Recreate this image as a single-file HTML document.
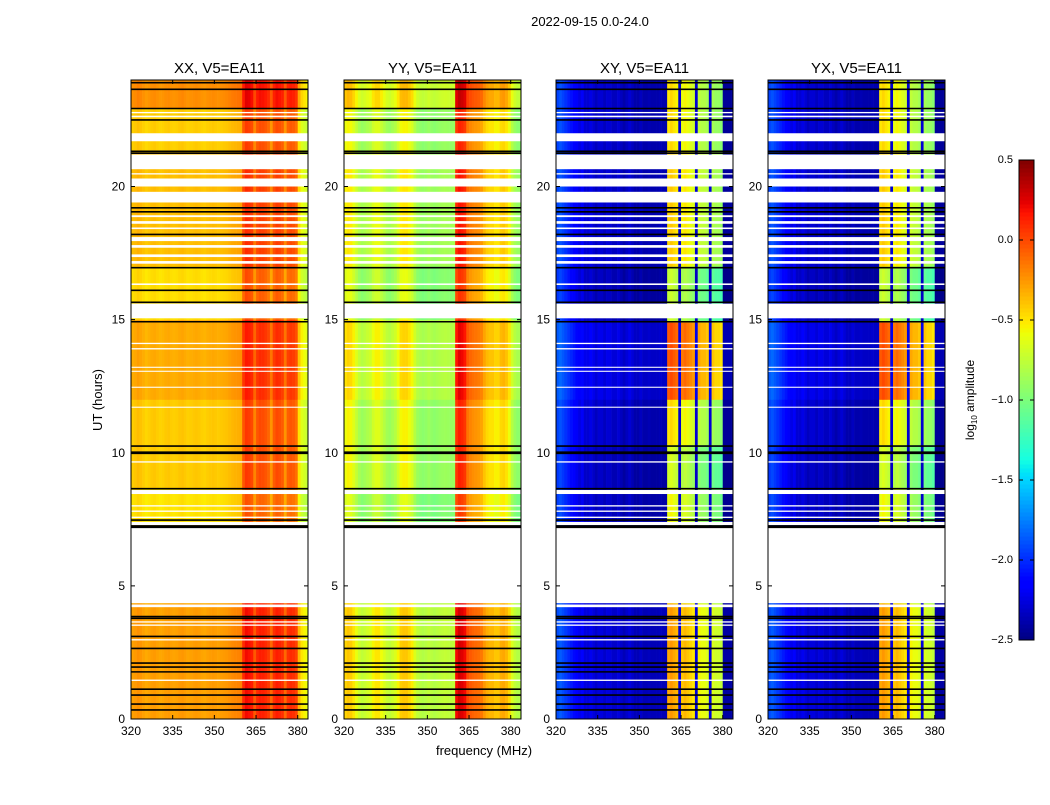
<!DOCTYPE html>
<html><head><meta charset="utf-8">
<style>
body{margin:0;background:#fff;}
svg text{font-family:"Liberation Sans","DejaVu Sans",sans-serif;fill:#000;}
</style></head>
<body>
<svg id="fig" width="1050" height="800" viewBox="0 0 1050 800" xmlns="http://www.w3.org/2000/svg">
<rect width="1050" height="800" fill="#fff"/>
<text x="590" y="26" font-size="13" text-anchor="middle">2022-09-15 0.0-24.0</text>
<text transform="translate(102,400) rotate(-90)" font-size="13" text-anchor="middle">UT (hours)</text>
<text x="484" y="755" font-size="13" text-anchor="middle">frequency (MHz)</text>
<g id="panels"></g>
<g id="cbar"></g>
</svg>
<script>
// ---- data ----
const freqStart = 320, freqStep = 1; // 64 one-MHz bins, 320-384
const xxProfile = [-0.38,-0.36,-0.33,-0.35,-0.38,-0.41,-0.39,-0.37,-0.36,-0.38,-0.4,-0.39,-0.37,-0.36,-0.38,-0.39,-0.38,-0.36,-0.35,-0.37,-0.39,-0.38,-0.37,-0.36,-0.37,-0.39,-0.4,-0.38,-0.37,-0.36,-0.37,-0.38,-0.37,-0.36,-0.35,-0.33,-0.31,-0.3,-0.29,-0.28,0.0,0.1,0.08,0.04,-0.15,0.0,0.04,0.03,0.0,-0.05,-0.2,-0.02,0.04,0.02,-0.02,-0.2,-0.03,0.0,-0.02,-0.08,-0.45,-0.6,-0.65,-0.7];
const yyProfile = [-0.55,-0.5,-0.52,-0.6,-0.7,-0.8,-0.85,-0.82,-0.78,-0.75,-0.65,-0.6,-0.6,-0.68,-0.75,-0.82,-0.85,-0.8,-0.75,-0.65,-0.52,-0.5,-0.5,-0.55,-0.62,-0.75,-0.85,-0.88,-0.9,-0.88,-0.85,-0.88,-0.9,-0.88,-0.86,-0.85,-0.84,-0.85,-0.86,-0.85,0.1,0.18,0.15,0.1,-0.1,-0.15,-0.18,-0.2,-0.22,-0.25,-0.35,-0.42,-0.45,-0.45,-0.5,-0.5,-0.42,-0.4,-0.45,-0.55,-0.75,-0.85,-0.9,-0.9];
const xyProfile = [-1.95,-1.9,-1.95,-2.0,-2.05,-2.1,-2.15,-2.2,-2.25,-2.2,-2.3,-2.3,-2.25,-2.3,-2.35,-2.3,-2.3,-2.35,-2.3,-2.3,-2.35,-2.35,-2.3,-2.35,-2.4,-2.35,-2.3,-2.35,-2.4,-2.4,-2.35,-2.4,-2.4,-2.38,-2.4,-2.4,-2.4,-2.38,-2.4,-2.4,-0.6,-0.55,-0.6,-0.65,-2.3,-0.7,-0.65,-0.7,-0.75,-0.8,-2.3,-0.85,-0.9,-0.9,-0.95,-2.3,-0.95,-1.0,-1.0,-1.05,-2.45,-2.45,-2.45,-2.45];
const yxProfile = xyProfile.slice();
// time gain segments: [startHour, endHour, offset]
const parGain = [[0,4.35,0.1],[4.35,7.4,0],[7.4,8.65,-0.12],[8.65,10.3,-0.04],[10.3,12,-0.04],[12,15,0.06],[15,17,-0.1],[17,21.3,0.0],[21.3,22.95,-0.05],[22.95,24,0.15]];
const crossGain = [[0,4.35,0.3],[4.35,7.4,0],[7.4,8.65,0.0],[8.65,10.3,-0.1],[10.3,12,0.1],[12,14.9,0.55],[14.9,17,-0.15],[17,21.3,0.15],[21.3,24,0.1]];
// flagged (blank) intervals in hours
const blanks = [[4.35,7.2],[4.2,4.3],[3.62,3.67],[3.5,3.55],[2.95,3.0],[1.43,1.48],[7.28,7.4],[7.55,7.6],[7.78,7.83],[7.98,8.03],[8.45,8.6],[9.63,9.68],[11.69,11.73],[12.44,12.48],[13.04,13.08],[13.19,13.23],[13.88,13.93],[14.08,14.13],[15.05,15.6],[16.3,16.36],[17.1,17.2],[17.35,17.45],[17.7,17.8],[17.95,18.1],[18.4,18.46],[18.6,18.7],[18.85,18.92],[19.4,19.8],[20.0,20.3],[20.45,20.5],[20.65,21.2],[21.7,22.0],[22.6,22.66],[22.75,22.8]];
// black (flag-boundary) lines in hours
const blackLines = [0.34,0.56,0.9,1.12,1.77,1.95,2.1,2.65,3.1,3.78,3.85,7.2,7.25,7.47,8.65,9.98,10.02,10.25,14.92,15.65,16.1,16.95,18.2,19.05,19.2,21.25,21.32,22.5,22.93,23.65,23.9];
const xTicks = [320,335,350,365,380];
const yTicks = [0,5,10,15,20];
const cbTicks = [0.5,0.0,-0.5,-1.0,-1.5,-2.0,-2.5];
const panels = [
  {title:'XX, V5=EA11', x0:131, prof:xxProfile, gain:parGain},
  {title:'YY, V5=EA11', x0:344, prof:yyProfile, gain:parGain},
  {title:'XY, V5=EA11', x0:556, prof:xyProfile, gain:crossGain},
  {title:'YX, V5=EA11', x0:768, prof:yxProfile, gain:crossGain}
];
// ---- layout ----
const PW=177, PT=80, PB=719, FMIN=320, FMAX=383.7, TMAX=24, VMIN=-2.5, VMAX=0.5;
const NS='http://www.w3.org/2000/svg';
function el(tag,attrs,parent){const e=document.createElementNS(NS,tag);for(const k in attrs)e.setAttribute(k,attrs[k]);parent.appendChild(e);return e;}
function interp(t,pts){for(let i=1;i<pts.length;i++){if(t<=pts[i][0]){const a=pts[i-1],b=pts[i];return a[1]+(b[1]-a[1])*(t-a[0])/(b[0]-a[0]);}}return pts[pts.length-1][1];}
const JR=[[0,0],[0.35,0],[0.66,1],[0.89,1],[1,0.5]];
const JG=[[0,0],[0.125,0],[0.375,1],[0.64,1],[0.91,0],[1,0]];
const JB=[[0,0.5],[0.11,1],[0.34,1],[0.65,0],[1,0]];
function jet(v){let t=(v-VMIN)/(VMAX-VMIN);t=Math.max(0,Math.min(1,t));
  return `rgb(${Math.round(interp(t,JR)*255)},${Math.round(interp(t,JG)*255)},${Math.round(interp(t,JB)*255)})`;}
function yS(h){return PB-(h/TMAX)*(PB-PT);}
const root=document.getElementById('panels');
panels.forEach((p,pi)=>{
  const xS=f=>p.x0+(f-FMIN)/(FMAX-FMIN)*PW;
  const g=el('g',{},root);
  
  
  const hm=el('g',{},g);
  
  
  p.prof.forEach((v,c)=>{
    const f0=freqStart+c*freqStep, f1=Math.min(f0+freqStep,FMAX);
    const xa=xS(f0), xb=xS(f1);
    p.gain.forEach(sg=>{
      const val = (p.gain===crossGain && v<-1.5) ? v+sg[2]*0.15 : v+sg[2];
      const r=el('rect',{x:xa.toFixed(2),y:yS(sg[1]).toFixed(2),width:(xb-xa+0.3).toFixed(2),height:(yS(sg[0])-yS(sg[1])+0.3).toFixed(2),fill:jet(val)},hm);
      
      
    });
  });
  blanks.forEach(b=>{
    const r=el('rect',{x:p.x0,y:yS(b[1]),width:PW,height:yS(b[0])-yS(b[1]),fill:'#fff'},g);
    
    
  });
  blackLines.forEach(h=>{
    const l=el('line',{x1:p.x0,x2:p.x0+PW,y1:yS(h),y2:yS(h),stroke:'#000','stroke-width':1.6},g);
    
    
  });
  const fr=el('rect',{x:p.x0,y:PT,width:PW,height:PB-PT,fill:'none',stroke:'#000','stroke-width':1},g);
  
  
  const t=el('text',{x:p.x0+PW/2,y:73,'font-size':15,'text-anchor':'middle'},g);
  t.textContent=p.title;
  
  
  xTicks.forEach(v=>{
    const x=xS(v);
    el('line',{x1:x,x2:x,y1:PB,y2:PB-4,stroke:'#000'},g);
    el('line',{x1:x,x2:x,y1:PT,y2:PT+4,stroke:'#000'},g);
    const tl=el('text',{x:x,y:PB+16,'font-size':12,'text-anchor':'middle'},g);
    tl.textContent=v;
    
    
  });
  yTicks.forEach(v=>{
    const y=yS(v);
    el('line',{x1:p.x0,x2:p.x0+4,y1:y,y2:y,stroke:'#000'},g);
    el('line',{x1:p.x0+PW,x2:p.x0+PW-4,y1:y,y2:y,stroke:'#000'},g);
    const tl=el('text',{x:p.x0-6,y:y+4,'font-size':12,'text-anchor':'end'},g);
    tl.textContent=v;
    
    
  });
});
// colorbar
const cb=document.getElementById('cbar');
const CX=1019,CW=15,CT=160,CB=640;
for(let i=0;i<120;i++){
  const v=VMIN+(i+0.5)/120*(VMAX-VMIN);
  const y0=CB-(i+1)/120*(CB-CT);
  el('rect',{x:CX,y:y0,width:CW,height:(CB-CT)/120+0.5,fill:jet(v)},cb);
}
el('rect',{x:CX,y:CT,width:CW,height:CB-CT,fill:'none',stroke:'#000'},cb);
cbTicks.forEach(v=>{
  const y=CB-(v-VMIN)/(VMAX-VMIN)*(CB-CT);
  el('line',{x1:CX,x2:CX+4,y1:y,y2:y,stroke:'#000'},cb);
  el('line',{x1:CX+CW,x2:CX+CW-4,y1:y,y2:y,stroke:'#000'},cb);
  const tl=el('text',{x:1013,y:y+3,'font-size':11,'text-anchor':'end'},cb);
  tl.textContent=(v<0?'\u2212':'')+Math.abs(v).toFixed(1);
  
  
});
const cl=el('text',{transform:'translate(974,400) rotate(-90)','font-size':12,'text-anchor':'middle'},cb);
cl.innerHTML='log<tspan font-size="8" dy="3">10</tspan><tspan dy="-3"> amplitude</tspan>';


</script>
</body></html>
